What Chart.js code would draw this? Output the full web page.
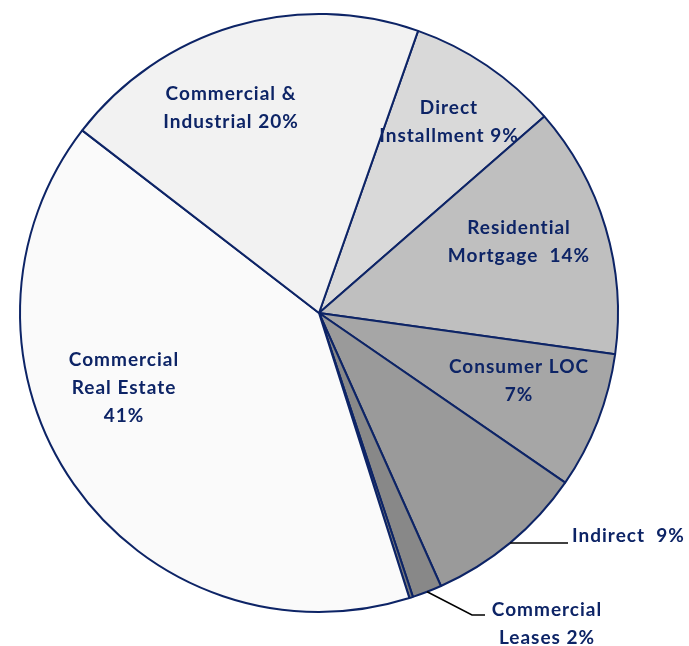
<!doctype html>
<html lang="en">
<head>
<meta charset="utf-8">
<title>Loan Portfolio</title>
<script src="https://cdn.jsdelivr.net/npm/chart.js@4.4.0/dist/chart.umd.min.js"></script>
<style>
  html, body { margin: 0; padding: 0; background: #ffffff; }
</style>
</head>
<body>
<canvas id="pie" width="689" height="646"></canvas>
<script>
  // slices, clockwise from the Direct Installment edge
  var categories = ['Direct Installment', 'Residential Mortgage', 'Consumer LOC', 'Indirect',
                    'Commercial Leases', 'Other', 'Commercial Real Estate', 'Commercial & Industrial'];
  var shares = [8.2, 13.6, 7.4, 8.7, 1.6, 0.2, 40.3, 19.9];
  var labelText = [
    ['Direct', 'Installment 9%'],
    ['Residential', 'Mortgage  14%'],
    ['Consumer LOC', '7%'],
    ['Indirect  9%'],
    ['Commercial', 'Leases 2%'],
    [],
    ['Commercial', 'Real Estate', '41%'],
    ['Commercial &', 'Industrial 20%']
  ];
  var fills = ['#d9d9d9', '#bfbfbf', '#a6a6a6', '#9a9a9a', '#888888', '#7a7a7a', '#fafafa', '#f2f2f2'];

  // where each label block sits (x, y of first line), align, leader path
  var labelPos = [
    { x: 449, y: 108, align: 'center' },
    { x: 519, y: 228, align: 'center' },
    { x: 519, y: 367, align: 'center' },
    { x: 572, y: 536, align: 'left', leader: [[568, null]] },
    { x: 547, y: 610, align: 'center', leader: [[472, 615], [485, 615]] },
    null,
    { x: 124, y: 360, align: 'center' },
    { x: 231, y: 94, align: 'center' }
  ];

  var navy = '#0d2466';
  var lineGap = 28;

  var sliceLabels = {
    id: 'sliceLabels',
    afterDatasetsDraw: function(chart) {
      var ctx = chart.ctx;
      var arcs = chart.getDatasetMeta(0).data;
      ctx.save();
      ctx.font = 'bold 19px Lato, "Open Sans", sans-serif';
      ctx.letterSpacing = '1px';
      ctx.textBaseline = 'middle';
      for (var i = 0; i < labelText.length; i++) {
        var p = labelPos[i];
        if (!p) continue;
        if (p.leader) {
          var a = arcs[i].getProps(['x', 'y', 'startAngle', 'endAngle', 'outerRadius'], true);
          var mid = (a.startAngle + a.endAngle) / 2;
          var sx = a.x + Math.cos(mid) * a.outerRadius;
          var sy = a.y + Math.sin(mid) * a.outerRadius;
          ctx.beginPath();
          ctx.strokeStyle = '#000000';
          ctx.lineWidth = 1.5;
          ctx.moveTo(sx, sy);
          p.leader.forEach(function(pt) {
            ctx.lineTo(pt[0], pt[1] === null ? sy : pt[1]);
          });
          ctx.stroke();
        }
        ctx.fillStyle = navy;
        ctx.textAlign = p.align;
        labelText[i].forEach(function(line, k) {
          ctx.fillText(line, p.x, p.y + k * lineGap);
        });
      }
      ctx.restore();
    }
  };

  new Chart(document.getElementById('pie'), {
    type: 'pie',
    data: {
      labels: categories,
      datasets: [{
        data: shares,
        backgroundColor: fills,
        borderColor: navy,
        borderWidth: 2
      }]
    },
    options: {
      responsive: false,
      animation: false,
      rotation: 19.35,
      layout: { padding: { left: 19, top: 13, right: 70, bottom: 33 } },
      plugins: {
        legend: { display: false },
        tooltip: { enabled: false }
      }
    },
    plugins: [sliceLabels]
  });
</script>
</body>
</html>
